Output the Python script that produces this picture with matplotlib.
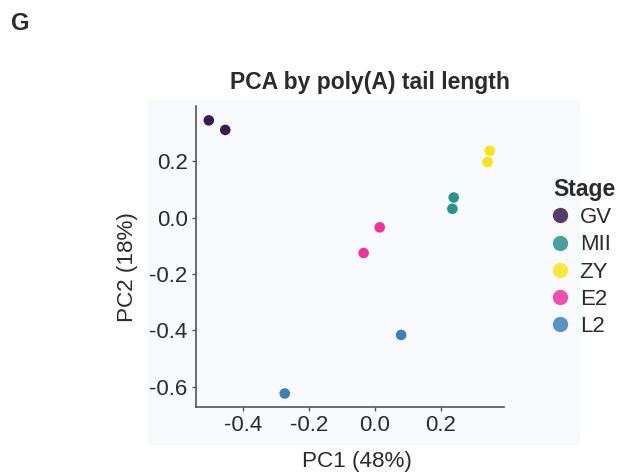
import matplotlib
matplotlib.use("Agg")
import matplotlib.pyplot as plt
from matplotlib.patches import Rectangle
from matplotlib.lines import Line2D

plt.rcParams['font.family'] = ['Liberation Sans', 'DejaVu Sans']

# data
stages = ['GV', 'MII', 'ZY', 'E2', 'L2']
colors = ['#3b1a50', '#2b918a', '#f7e41e', '#f0329a', '#3f80b9']
pc1 = {
    'GV': [-0.505, -0.455],
    'MII': [0.240, 0.236],
    'ZY': [0.350, 0.343],
    'E2': [0.015, -0.034],
    'L2': [0.080, -0.274],
}
pc2 = {
    'GV': [0.346, 0.312],
    'MII': [0.072, 0.032],
    'ZY': [0.238, 0.198],
    'E2': [-0.034, -0.125],
    'L2': [-0.416, -0.624],
}
xticks = [-0.4, -0.2, 0.0, 0.2]
yticks = [0.2, 0.0, -0.2, -0.4, -0.6]

txt = '#2b2b2b'
bg = '#f8fafd'

fig = plt.figure(figsize=(6.18, 4.76), dpi=100)
fig.patches.append(Rectangle((148/618, 1-445/476), (580-148)/618, 345/476,
                             transform=fig.transFigure, facecolor=bg,
                             edgecolor='none', zorder=-5))

ax = fig.add_axes([196/618, 1-407/476, 308/618, 301/476])
ax.set_facecolor(bg)
for st, c in zip(stages, colors):
    ax.scatter(pc1[st], pc2[st], s=58, color=c, edgecolor='none', zorder=3)

ax.set_xlim(-0.544, 0.393)
ax.set_ylim(-0.672, 0.397)
ax.set_xticks(xticks)
ax.set_xticklabels([f'{v:.1f}' for v in xticks])
ax.set_yticks(yticks)
ax.set_yticklabels([f'{v:.1f}' for v in yticks])
for s in ['top', 'right']:
    ax.spines[s].set_visible(False)
for s in ['left', 'bottom']:
    ax.spines[s].set_color('#555555')
    ax.spines[s].set_linewidth(1.2)
ax.tick_params(length=3, width=1, color='#555555', labelsize=16,
               labelcolor=txt, pad=3)
ax.set_xlabel('PC1 (48%)', fontsize=16.2, color=txt, va='center')
ax.xaxis.set_label_coords((357-196)/308, (407-462)/301)
ax.set_ylabel('PC2 (18%)', fontsize=16.2, color=txt, va='center')
ax.yaxis.set_label_coords((128-196)/308, (407-267)/301)

fig.text(370/618, 1-82/476, 'PCA by poly(A) tail length', ha='center',
         va='center', fontsize=16.5, fontweight='bold', color=txt)
fig.text(11/618, 1-24/476, 'G', ha='left', va='center', fontsize=17,
         fontweight='bold', color=txt)

handles = [Line2D([], [], marker='o', linestyle='none', markersize=11,
                  markerfacecolor=c, markeredgecolor='none', alpha=0.85)
           for c in colors]
leg = fig.legend(handles, stages, title='Stage', loc='upper left',
                 bbox_to_anchor=(553/618, 1-178/476), frameon=False,
                 fontsize=16, handlelength=0.6, handletextpad=0.6,
                 labelspacing=0.28, borderaxespad=0, borderpad=0)
leg.get_title().set_fontweight('bold')
leg.get_title().set_fontsize(16.5)
leg.get_title().set_color(txt)
leg._legend_box.align = 'left'
for t in leg.get_texts():
    t.set_color(txt)

fig.savefig('out.png', dpi=100)
